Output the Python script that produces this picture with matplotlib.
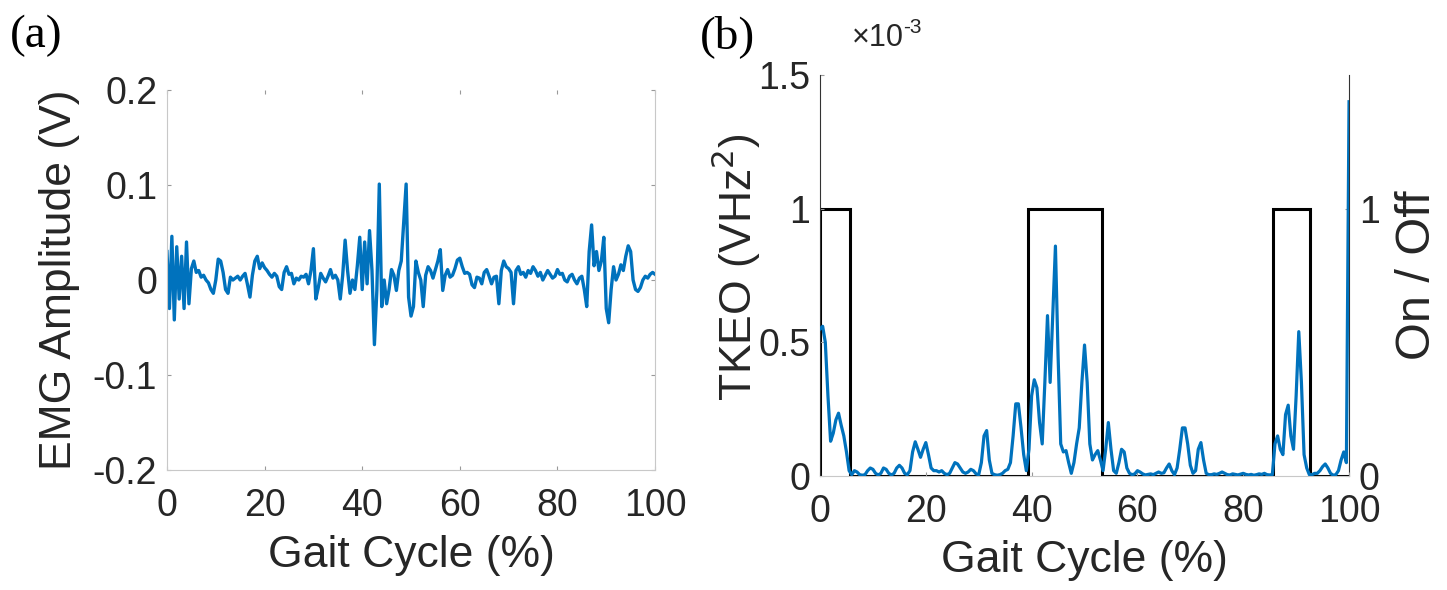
"""EMG amplitude and TKEO on/off detection over one gait cycle."""

import matplotlib

matplotlib.use("Agg")
import matplotlib.pyplot as plt
import numpy as np

BLUE = "#0072BD"
TEXT = "#262626"
SPINE_LIGHT = "#c8c8c8"

# samples every 0.5 % of the gait cycle
GAIT_STEP = 0.5

EMG_V = [
    0.030, -0.030, 0.046, -0.042, 0.035, -0.020, 0.025, -0.030, 0.040, -0.025,
    0.012, 0.020, 0.008, 0.010, 0.003, 0.005, 0.000, -0.003, -0.010, -0.014,
    0.000, 0.022, 0.020, 0.008, -0.010, -0.014, 0.003, 0.000, 0.002, 0.004,
    0.000, 0.004, 0.007, -0.005, -0.018, 0.005, 0.020, 0.025, 0.012, 0.018,
    0.013, 0.010, 0.006, 0.003, 0.007, 0.004, -0.007, -0.010, 0.008, 0.014,
    0.006, 0.007, -0.004, 0.002, 0.000, 0.004, 0.003, 0.006, -0.004, 0.010,
    0.033, -0.020, -0.008, 0.007, 0.002, -0.002, 0.004, 0.011, 0.002, 0.005,
    0.000, -0.020, 0.005, 0.042, 0.010, -0.014, 0.000, -0.010, 0.015, 0.045,
    -0.010, 0.040, -0.004, 0.052, 0.010, -0.068, -0.011, 0.101, -0.028, 0.000,
    -0.025, -0.010, 0.011, 0.005, -0.011, 0.010, 0.020, 0.060, 0.101, -0.018,
    -0.038, -0.028, 0.020, 0.008, 0.000, -0.028, 0.005, 0.014, 0.010, 0.002,
    0.011, 0.020, 0.032, -0.011, 0.005, 0.011, 0.003, 0.005, 0.012, 0.021,
    0.023, 0.014, 0.007, 0.008, 0.006, -0.005, -0.008, 0.003, 0.002, -0.004,
    0.008, 0.011, 0.004, -0.004, 0.003, 0.004, -0.025, 0.010, 0.020, 0.014,
    0.012, 0.008, -0.025, 0.010, 0.014, 0.006, 0.008, 0.003, 0.010, 0.007,
    0.014, 0.010, 0.004, 0.008, 0.000, 0.005, 0.010, 0.006, 0.002, 0.004,
    0.011, 0.006, 0.007, 0.000, -0.002, 0.004, 0.006, 0.000, -0.004, 0.002,
    0.004, -0.010, -0.028, 0.030, 0.058, 0.015, 0.030, 0.010, 0.020, 0.045,
    -0.030, -0.045, -0.010, 0.014, 0.000, 0.006, 0.016, 0.010, 0.025, 0.036,
    0.030, 0.000, -0.010, -0.012, -0.008, 0.000, 0.004, 0.002, 0.006, 0.008,
    0.006,
]

# TKEO in units of 1e-3 V Hz^2
TKEO_E3 = [
    0.55, 0.56, 0.50, 0.30, 0.13, 0.16, 0.21, 0.235, 0.19, 0.15,
    0.09, 0.02, 0.005, 0.02, 0.015, 0.005, 0.003, 0.005, 0.02, 0.03,
    0.025, 0.01, 0.004, 0.01, 0.03, 0.025, 0.01, 0.004, 0.01, 0.03,
    0.04, 0.03, 0.01, 0.005, 0.02, 0.09, 0.128, 0.10, 0.07, 0.10,
    0.125, 0.08, 0.03, 0.02, 0.02, 0.015, 0.02, 0.01, 0.005, 0.01,
    0.03, 0.05, 0.045, 0.03, 0.015, 0.01, 0.015, 0.025, 0.02, 0.008,
    0.005, 0.05, 0.15, 0.17, 0.06, 0.01, 0.005, 0.003, 0.005, 0.01,
    0.02, 0.025, 0.05, 0.15, 0.27, 0.27, 0.18, 0.08, 0.02, 0.10,
    0.30, 0.36, 0.33, 0.20, 0.12, 0.35, 0.60, 0.35, 0.60, 0.86,
    0.45, 0.12, 0.09, 0.095, 0.05, 0.01, 0.05, 0.12, 0.18, 0.35,
    0.49, 0.35, 0.12, 0.06, 0.08, 0.095, 0.06, 0.02, 0.10, 0.20,
    0.10, 0.02, 0.01, 0.05, 0.10, 0.09, 0.03, 0.01, 0.005, 0.008,
    0.02, 0.015, 0.008, 0.004, 0.006, 0.008, 0.005, 0.01, 0.015, 0.01,
    0.012, 0.03, 0.045, 0.02, 0.005, 0.03, 0.10, 0.18, 0.18, 0.12,
    0.04, 0.01, 0.02, 0.10, 0.125, 0.06, 0.01, 0.005, 0.005, 0.008,
    0.006, 0.01, 0.015, 0.01, 0.005, 0.004, 0.008, 0.006, 0.004, 0.007,
    0.01, 0.006, 0.004, 0.006, 0.003, 0.005, 0.008, 0.006, 0.01, 0.005,
    0.004, 0.005, 0.12, 0.15, 0.10, 0.08, 0.23, 0.265, 0.15, 0.10,
    0.30, 0.54, 0.35, 0.08, 0.03, 0.005, 0.005, 0.01, 0.01, 0.02,
    0.035, 0.045, 0.03, 0.01, 0.003, 0.005, 0.02, 0.06, 0.09, 0.05,
    1.40,
]

ACTIVATION_EDGES = [0, 5.7, 39.3, 53.3, 85.7, 92.7, 100]
ACTIVATION_STATE = [1, 0, 1, 0, 1, 0]

GAIT_TICKS = [0, 20, 40, 60, 80, 100]
EMG_TICKS = [-0.2, -0.1, 0, 0.1, 0.2]
EMG_TICK_LABELS = ["-0.2", "-0.1", "0", "0.1", "0.2"]
TKEO_TICKS = [0, 0.5, 1, 1.5]
TKEO_TICK_LABELS = ["0", "0.5", "1", "1.5"]
ONOFF_TICKS = [0, 1]
ONOFF_TICK_LABELS = ["0", "1"]

TICK_SIZE = 27
LABEL_SIZE = 32

plt.rcParams["font.family"] = ["Liberation Sans", "DejaVu Sans"]


def style_ticks(ax):
    ax.tick_params(direction="in", length=3, width=0.8, color="#999999",
                   labelsize=TICK_SIZE, labelcolor=TEXT, pad=7)
    ax.tick_params(axis="x", pad=13)


fig = plt.figure(figsize=(14.47, 5.9), dpi=100)

# (a) raw EMG
gait_emg = np.arange(len(EMG_V)) * GAIT_STEP
ax_a = fig.add_axes([0.1154, 0.2034, 0.3373, 0.644])
ax_a.plot(gait_emg, EMG_V, color=BLUE, linewidth=2.4)
ax_a.set_xlim(0, 100)
ax_a.set_ylim(-0.2, 0.2)
ax_a.set_xticks(GAIT_TICKS)
ax_a.set_yticks(EMG_TICKS)
ax_a.set_yticklabels(EMG_TICK_LABELS)
style_ticks(ax_a)
ax_a.tick_params(top=True, right=True)
for side in ["left", "bottom", "right"]:
    ax_a.spines[side].set_color(SPINE_LIGHT)
ax_a.spines["top"].set_visible(False)
ax_a.set_xlabel("Gait Cycle (%)", fontsize=LABEL_SIZE, color=TEXT)
ax_a.set_ylabel("EMG Amplitude (V)", fontsize=LABEL_SIZE, color=TEXT)
ax_a.yaxis.set_label_coords(-0.178, 0.5)
ax_a.xaxis.set_label_coords(0.5, -0.17)

# (b) TKEO with on/off detection
gait_tkeo = np.arange(len(TKEO_E3)) * GAIT_STEP
ax_b = fig.add_axes([0.5667, 0.1932, 0.3656, 0.6797])
ax_b.plot(gait_tkeo, TKEO_E3, color=BLUE, linewidth=2.3, zorder=3)
ax_b.set_xlim(0, 100)
ax_b.set_ylim(0, 1.5)
ax_b.set_xticks(GAIT_TICKS)
ax_b.set_yticks(TKEO_TICKS)
ax_b.set_yticklabels(TKEO_TICK_LABELS)
style_ticks(ax_b)
ax_b.spines["top"].set_visible(False)
ax_b.spines["right"].set_visible(False)
ax_b.spines["bottom"].set_color(SPINE_LIGHT)
ax_b.spines["left"].set_color("#333333")
ax_b.set_xlabel("Gait Cycle (%)", fontsize=LABEL_SIZE, color=TEXT)
ax_b.set_ylabel("TKEO (VHz$^2$)", fontsize=LABEL_SIZE, color=TEXT)
ax_b.yaxis.set_label_coords(-0.108, 0.52)
ax_b.xaxis.set_label_coords(0.5, -0.16)

# exponent of the TKEO axis, MATLAB style with a plain hyphen
fig.text(852 / 1447, 1 - 46 / 590, "\u00d710", fontsize=22, color=TEXT, ha="left", va="baseline")
fig.text(903 / 1447, 1 - 33 / 590, "-3", fontsize=15, color=TEXT, ha="left", va="baseline")

ax_r = ax_b.twinx()
ax_r.stairs(ACTIVATION_STATE, ACTIVATION_EDGES, baseline=None,
            color="black", linewidth=2.2, zorder=2)
ax_r.plot([ACTIVATION_EDGES[0]] * 2, [0, ACTIVATION_STATE[0]], color="black", linewidth=2.2)
ax_r.set_ylim(0, 1.5)
ax_r.set_yticks(ONOFF_TICKS)
ax_r.set_yticklabels(ONOFF_TICK_LABELS)
style_ticks(ax_r)
for side in ["top", "left", "bottom"]:
    ax_r.spines[side].set_visible(False)
ax_r.spines["right"].set_color("#333333")
ax_r.set_ylabel("On / Off", fontsize=35, color=TEXT)
ax_r.yaxis.set_label_coords(1.086, 0.5)
ax_b.set_zorder(ax_r.get_zorder() + 1)
ax_b.patch.set_visible(False)

fig.text(0.007, 0.975, "(a)", fontsize=34, family="Liberation Serif", va="top", ha="left")
fig.text(0.484, 0.975, "(b)", fontsize=34, family="Liberation Serif", va="top", ha="left")

fig.savefig("out.png", dpi=100)
plt.close(fig)
